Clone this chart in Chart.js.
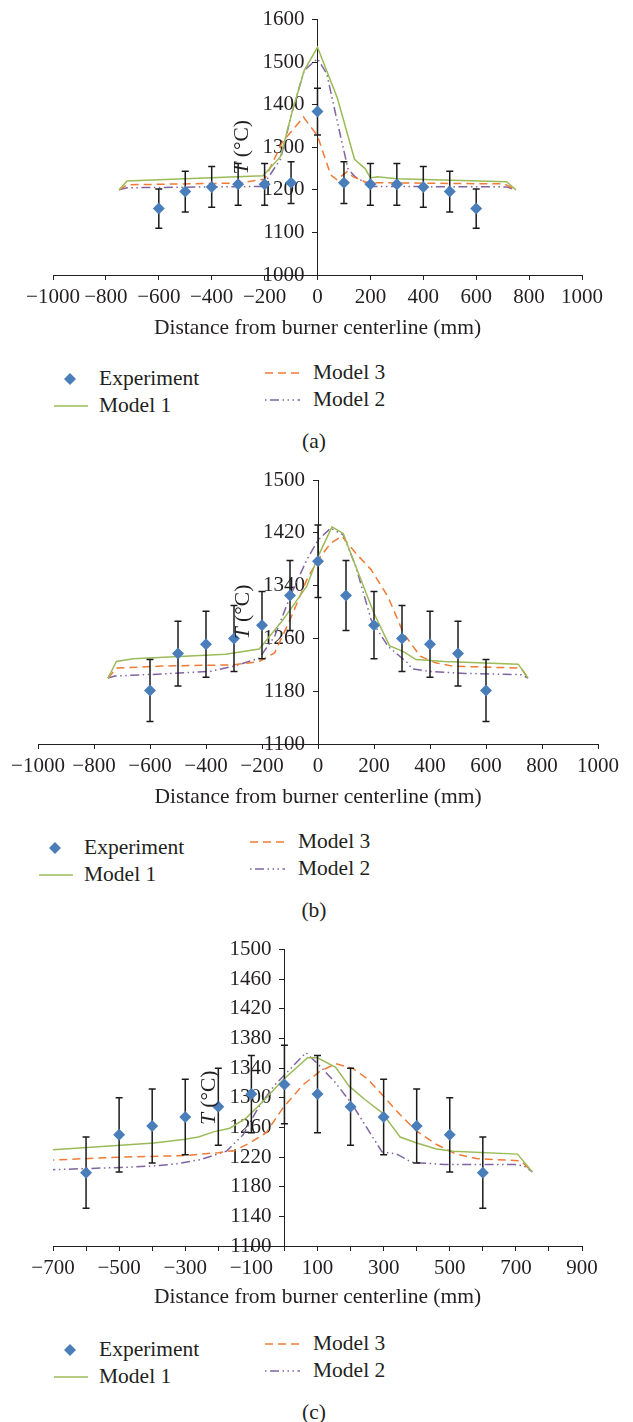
<!DOCTYPE html>
<html>
<head>
<meta charset="utf-8">
<script src="https://cdn.jsdelivr.net/npm/chart.js@4/dist/chart.umd.min.js"></script>
<style>
  html, body { margin: 0; padding: 0; background: #fff; }
  body {
    width: 633px; height: 1422px; position: relative; overflow: hidden;
    font-family: "Liberation Serif", "DejaVu Serif", serif; color: #231f20;
  }
  canvas { position: absolute; left: 0; }
  .lg { position: absolute; font-size: 21.5px; line-height: 1; white-space: nowrap; transform: translateY(-50%); }
  .lg-s { position: absolute; }
  .sym { position: absolute; overflow: visible; }
  .cap { position: absolute; font-size: 21.5px; line-height: 1; transform: translate(-50%, -50%); }
</style>
</head>
<body>
<canvas id="pa"></canvas>
<canvas id="pb"></canvas>
<canvas id="pc"></canvas>
<script>
// ---- measured temperatures across the furnace (°C) ----
const expX = [-600, -500, -400, -300, -200, -100, 0, 100, 200, 300, 400, 500, 600];

// (a)
const expT_a   = [1156, 1196, 1207, 1213, 1213, 1217, 1384, 1217, 1213, 1213, 1207, 1196, 1156];
const expErr_a = [46, 48, 48, 49, 49, 49, 55, 49, 49, 49, 48, 48, 46];
const m1X_a = [-750, -720, -206, -140, -95, -50, 0, 75, 140, 180, 200, 225, 300, 715, 750];
const m1T_a = [1200, 1221, 1233, 1278, 1385, 1481, 1535, 1416, 1272, 1250, 1228, 1231, 1226, 1219, 1200];
const m2X_a = [-750, -720, -209, -140, -95, -50, 0, 35, 81, 115, 142, 203, 715, 750];
const m2T_a = [1200, 1205, 1208, 1272, 1385, 1481, 1508, 1473, 1343, 1250, 1231, 1208, 1207, 1200];
const m3X_a = [-750, -720, -300, -200, -133, -53, 0, 50, 73, 112, 134, 188, 707, 750];
const m3T_a = [1200, 1212, 1216, 1225, 1312, 1371, 1327, 1235, 1224, 1243, 1231, 1217, 1214, 1200];

// (b)
const expT_b   = [1181, 1237, 1251, 1260, 1280, 1325, 1377, 1325, 1280, 1260, 1251, 1237, 1181];
const expErr_b = [47, 49, 50, 50, 51, 53, 55, 53, 51, 50, 50, 49, 47];
const m1X_b = [-750, -720, -660, -330, -210, -125, -40, 0, 50, 90, 135, 200, 255, 305, 350, 450, 715, 750];
const m1T_b = [1200, 1225, 1229, 1236, 1244, 1288, 1339, 1384, 1429, 1419, 1369, 1298, 1249, 1240, 1228, 1225, 1221, 1200];
const m2X_b = [-750, -725, -560, -385, -300, -210, -155, -95, -40, 0, 45, 90, 135, 190, 250, 320, 335, 395, 525, 725, 750];
const m2T_b = [1200, 1203, 1206, 1210, 1218, 1230, 1263, 1328, 1379, 1409, 1427, 1417, 1369, 1288, 1248, 1223, 1214, 1210, 1207, 1205, 1200];
const m3X_b = [-750, -720, -560, -300, -210, -155, -95, -40, 0, 45, 85, 135, 190, 250, 305, 365, 420, 480, 725, 750];
const m3T_b = [1200, 1215, 1218, 1220, 1225, 1238, 1293, 1349, 1379, 1404, 1415, 1389, 1364, 1323, 1268, 1233, 1223, 1218, 1215, 1200];

// (c)
const expT_c   = [1199, 1250, 1262, 1274, 1288, 1305, 1318, 1305, 1288, 1274, 1262, 1250, 1199];
const expErr_c = [48, 50, 50, 51, 52, 52, 53, 52, 52, 51, 50, 50, 48];
const m1X_c = [-750, -720, -700, -495, -395, -300, -260, -215, -165, -115, -65, -5, 70, 100, 155, 195, 245, 295, 350, 400, 460, 510, 705, 750];
const m1T_c = [1200, 1229, 1230, 1236, 1239, 1244, 1247, 1254, 1259, 1273, 1295, 1324, 1354, 1354, 1341, 1316, 1297, 1280, 1247, 1239, 1231, 1228, 1224, 1200];
const m2X_c = [-750, -720, -700, -495, -395, -325, -250, -175, -125, -80, -30, 20, 65, 105, 155, 205, 250, 295, 340, 385, 485, 695, 725, 750];
const m2T_c = [1200, 1203, 1203, 1206, 1208, 1211, 1217, 1228, 1250, 1286, 1317, 1340, 1361, 1344, 1320, 1291, 1259, 1227, 1224, 1213, 1210, 1210, 1208, 1200];
const m3X_c = [-750, -720, -700, -495, -300, -200, -150, -105, -55, -5, 55, 105, 155, 205, 250, 300, 350, 400, 460, 520, 580, 715, 750];
const m3T_c = [1200, 1215, 1216, 1220, 1222, 1226, 1229, 1239, 1253, 1286, 1317, 1335, 1346, 1340, 1326, 1302, 1277, 1255, 1237, 1224, 1218, 1215, 1200];

// ---- styling ----
const FONT = "'Liberation Serif', 'DejaVu Serif', serif";
const INK = '#231f20';
const C_EXP = '#4a7ebb', C_M1 = '#9bbb59', C_M2 = '#8064a2', C_M3 = '#ef7b35';
const DASH_M3 = [8, 5];
const DASH_M2 = [9, 3.5, 1.5, 3.5, 1.5, 3.5];
const TICK_PX = 21, TEXT_PX = 21.5;

const zip = (xs, ys) => xs.map((x, i) => ({ x: x, y: ys[i] }));
const minus = v => (v < 0 ? '\u2212' + Math.abs(v) : String(v));

// vertical error bars with caps, drawn just beneath the experiment markers
const errorBars = {
  id: 'errorBars',
  beforeDatasetDraw(chart, args) {
    const ds = chart.data.datasets[args.index];
    if (!ds.errors) return;
    const { ctx } = chart;
    const xs = chart.scales.x, ys = chart.scales.y;
    ctx.save();
    ctx.strokeStyle = '#1b1b1b';
    ctx.lineWidth = 1.5;
    ds.data.forEach((p, i) => {
      const e = ds.errors[i];
      const px = xs.getPixelForValue(p.x);
      const top = ys.getPixelForValue(p.y + e);
      const bot = ys.getPixelForValue(p.y - e);
      ctx.beginPath();
      ctx.moveTo(px, top); ctx.lineTo(px, bot);
      ctx.moveTo(px - 3.5, top); ctx.lineTo(px + 3.5, top);
      ctx.moveTo(px - 3.5, bot); ctx.lineTo(px + 3.5, bot);
      ctx.stroke();
    });
    ctx.restore();
  }
};

// the centred temperature axis puts its labels flush against the axis line;
// move them clear of the tick marks
const yLabelGap = {
  id: 'yLabelGap',
  afterLayout(chart) {
    const s = chart.scales.y;
    if (!s || s.$gapWrapped) return;
    const orig = s.drawLabels;
    s.drawLabels = function (area) {
      const ctx = this.ctx;
      ctx.save();
      ctx.translate(-13, 0);
      orig.call(this, area);
      ctx.restore();
    };
    s.$gapWrapped = true;
  }
};

// rotated "T (°C)" title sitting left of the centred temperature axis
const yTitle = {
  id: 'yTitle',
  afterDatasetsDraw(chart) {
    const { ctx, chartArea } = chart;
    const x = chart.scales.x.getPixelForValue(0) - 75;
    const y = (chartArea.top + chartArea.bottom) / 2;
    const it = 'italic ' + TEXT_PX + 'px ' + FONT, rg = TEXT_PX + 'px ' + FONT;
    ctx.save();
    ctx.translate(x, y);
    ctx.rotate(-Math.PI / 2);
    ctx.fillStyle = INK;
    ctx.textBaseline = 'middle';
    ctx.textAlign = 'left';
    ctx.font = it; const w1 = ctx.measureText('T').width;
    ctx.font = rg; const w2 = ctx.measureText(' (\u00b0C)').width;
    const sx = -(w1 + w2) / 2;
    ctx.font = it; ctx.fillText('T', sx, 0);
    ctx.font = rg; ctx.fillText(' (\u00b0C)', sx + w1, 0);
    ctx.restore();
  }
};

function svgLine(color, dash, w) {
  const da = dash ? ' stroke-dasharray="' + dash.join(',') + '"' : '';
  return '<svg class="sym" width="' + w + '" height="6" style="top:-3px">' +
    '<line x1="0" y1="3" x2="' + w + '" y2="3" stroke="' + color + '" stroke-width="1.6"' + da + '/></svg>';
}

function addLegend(chart, canvasTop, caption) {
  const L = chart.chartArea.left;
  const B = canvasTop + chart.chartArea.bottom;
  const put = (html, x, y, cls) => {
    const d = document.createElement('div');
    d.className = cls || 'lg';
    d.style.left = x + 'px';
    d.style.top = y + 'px';
    d.innerHTML = html;
    document.body.appendChild(d);
  };
  const rows = [
    { sym: 'diamond', label: 'Experiment', sx: L + 17, tx: L + 46, y: B + 104 },
    { sym: svgLine(C_M1, null, 34), label: 'Model 1', sx: L + 1, tx: L + 46, y: B + 131 },
    { sym: svgLine(C_M3, DASH_M3, 35), label: 'Model 3', sx: L + 212, tx: L + 260, y: B + 98 },
    { sym: svgLine(C_M2, [1.5, 3.5, 9, 3.5, 1.5, 3.5, 1.5, 3.5], 35), label: 'Model 2', sx: L + 212, tx: L + 260, y: B + 125 }
  ];
  rows.forEach(r => {
    const sym = r.sym === 'diamond'
      ? '<svg class="sym" width="12" height="12" style="left:-6px;top:-6px"><path d="M6 0 L12 6 L6 12 L0 6 Z" fill="' + C_EXP + '"/></svg>'
      : r.sym;
    put(sym, r.sx, r.y, 'lg-s');
    put(r.label, r.tx, r.y);
  });
  put(caption, 314, B + 167, 'cap');
}

function makePanel(id, p) {
  const cv = document.getElementById(id);
  cv.width = 633;
  cv.height = p.chartBottom + p.axisH - p.canvasTop;
  cv.style.top = p.canvasTop + 'px';
  const tickFont = { family: FONT, size: TICK_PX };
  const chart = new Chart(cv, {
    type: 'scatter',
    data: {
      datasets: [
        { label: 'Experiment', data: zip(expX, p.expT), errors: p.expErr, showLine: false,
          pointStyle: 'rectRot', pointRadius: 6, pointHoverRadius: 6,
          backgroundColor: C_EXP, borderColor: C_EXP, borderWidth: 0 },
        { label: 'Model 1', data: zip(p.m1X, p.m1T), showLine: true, pointRadius: 0,
          borderColor: C_M1, borderWidth: 1.5, tension: 0 },
        { label: 'Model 3', data: zip(p.m3X, p.m3T), showLine: true, pointRadius: 0,
          borderColor: C_M3, borderWidth: 1.5, borderDash: DASH_M3, tension: 0 },
        { label: 'Model 2', data: zip(p.m2X, p.m2T), showLine: true, pointRadius: 0,
          borderColor: C_M2, borderWidth: 1.5, borderDash: DASH_M2, tension: 0 }
      ]
    },
    options: {
      responsive: false,
      animation: false,
      events: [],
      layout: { padding: { left: p.left, right: 633 - p.right, top: p.chartTop - p.canvasTop, bottom: 0 } },
      plugins: { legend: { display: false }, tooltip: { enabled: false } },
      scales: {
        x: {
          type: 'linear', min: p.xMin, max: p.xMax,
          ticks: {
            stepSize: p.xStep, autoSkip: false, maxRotation: 0, padding: 5,
            font: tickFont, color: INK,
            callback: v => ((v - p.xMin) % p.xLabelEvery === 0 ? minus(v) : '')
          },
          grid: { drawOnChartArea: false, drawTicks: true, tickLength: 5, color: INK, lineWidth: 1 },
          border: { display: true, color: INK, width: 1 },
          title: { display: true, text: 'Distance from burner centerline (mm)',
                   font: { family: FONT, size: TEXT_PX }, color: INK, padding: { top: 0, bottom: 4 } },
          afterFit: s => { s.height = p.axisH; }
        },
        y: {
          type: 'linear', min: p.yMin, max: p.yMax, position: { x: 0 },
          ticks: { stepSize: p.yStep, padding: 7, font: tickFont, color: INK, callback: v => String(v) },
          grid: { drawOnChartArea: false, drawTicks: true, tickLength: 5, color: INK, lineWidth: 1 },
          border: { display: true, color: INK, width: 1 }
        }
      }
    },
    plugins: [errorBars, yLabelGap, yTitle]
  });
  addLegend(chart, p.canvasTop, p.caption);
  return chart;
}

makePanel('pa', {
  canvasTop: 0, chartTop: 14, chartBottom: 275, left: 53, right: 582, axisH: 70,
  xMin: -1000, xMax: 1000, xStep: 200, xLabelEvery: 200,
  yMin: 1000, yMax: 1600, yStep: 100,
  expT: expT_a, expErr: expErr_a, m1X: m1X_a, m1T: m1T_a, m2X: m2X_a, m2T: m2T_a, m3X: m3X_a, m3T: m3T_a,
  caption: '(a)'
});
makePanel('pb', {
  canvasTop: 460, chartTop: 480, chartBottom: 744, left: 38, right: 598, axisH: 70,
  xMin: -1000, xMax: 1000, xStep: 200, xLabelEvery: 200,
  yMin: 1100, yMax: 1500, yStep: 40,
  expT: expT_b, expErr: expErr_b, m1X: m1X_b, m1T: m1T_b, m2X: m2X_b, m2T: m2T_b, m3X: m3X_b, m3T: m3T_b,
  caption: '(b)'
});
makePanel('pc', {
  canvasTop: 930, chartTop: 947, chartBottom: 1246, left: 53, right: 582, axisH: 68,
  xMin: -700, xMax: 900, xStep: 100, xLabelEvery: 200,
  yMin: 1100, yMax: 1500, yStep: 40,
  expT: expT_c, expErr: expErr_c, m1X: m1X_c, m1T: m1T_c, m2X: m2X_c, m2T: m2T_c, m3X: m3X_c, m3T: m3T_c,
  caption: '(c)'
});
</script>
</body>
</html>
